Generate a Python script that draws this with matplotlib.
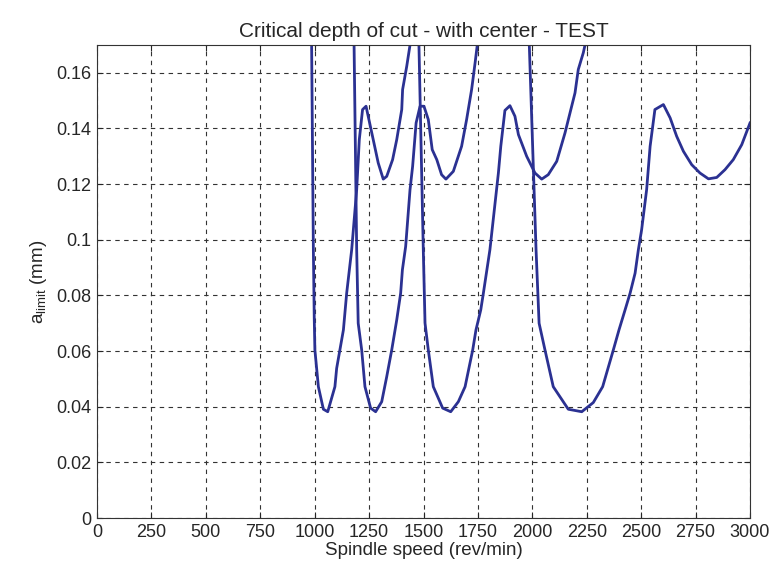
import matplotlib
matplotlib.use("Agg")
import matplotlib.pyplot as plt

plt.rcParams['font.family'] = ['Liberation Sans', 'DejaVu Sans']
plt.rcParams['mathtext.fontset'] = 'custom'
plt.rcParams['mathtext.rm'] = 'Liberation Sans'

# -- lobes (spindle speed rev/min, a_limit mm) --
lobe1_n = [986, 994, 998, 1001, 1017, 1040, 1060, 1093, 1101, 1132, 1147, 1170,
           1193, 1205, 1220, 1236, 1269, 1292, 1315, 1331, 1358, 1377, 1400,
           1404, 1423, 1438]
lobe1_a = [0.170, 0.0964, 0.072, 0.0604, 0.0472, 0.0391, 0.0382, 0.0472, 0.0538,
           0.0676, 0.0808, 0.0964, 0.118, 0.136, 0.1468, 0.148, 0.136, 0.1276,
           0.1218, 0.1228, 0.1288, 0.136, 0.1468, 0.154, 0.1624, 0.170]

lobe2_n = [1181, 1193, 1200, 1216, 1231, 1257, 1280, 1308, 1331, 1354, 1377, 1395,
           1403, 1418, 1438, 1450, 1466, 1484, 1502, 1522, 1540, 1561, 1583, 1603,
           1637, 1675, 1698, 1721, 1737, 1747]
lobe2_a = [0.170, 0.0964, 0.070, 0.0604, 0.0472, 0.0395, 0.0382, 0.0418, 0.0508,
           0.0604, 0.0712, 0.0808, 0.0892, 0.0976, 0.118, 0.1264, 0.142, 0.148,
           0.148, 0.1432, 0.1324, 0.1288, 0.1234, 0.1218, 0.1246, 0.1336, 0.1432,
           0.154, 0.1636, 0.170]

lobe3_n = [1479, 1499, 1507, 1522, 1545, 1588, 1625, 1660, 1691, 1726, 1741, 1763,
           1775, 1805, 1844, 1855, 1874, 1897, 1920, 1936, 1974, 2012, 2043, 2073,
           2112, 2150, 2196, 2211, 2234, 2242]
lobe3_a = [0.170, 0.0964, 0.070, 0.0604, 0.0472, 0.0395, 0.0382, 0.0418, 0.0472,
           0.0604, 0.0676, 0.0748, 0.0808, 0.0964, 0.124, 0.1336, 0.1465, 0.1482,
           0.1444, 0.1378, 0.130, 0.124, 0.1218, 0.1234, 0.1282, 0.1384, 0.1528,
           0.1612, 0.1672, 0.170]

lobe4_n = [1986, 2017, 2031, 2058, 2096, 2165, 2227, 2280, 2323, 2372, 2398, 2426,
           2449, 2472, 2487, 2502, 2525, 2541, 2563, 2602, 2633, 2663, 2694, 2732,
           2770, 2809, 2847, 2885, 2923, 2962, 3000]
lobe4_a = [0.170, 0.0964, 0.070, 0.0604, 0.0472, 0.0391, 0.0382, 0.0415, 0.0472,
           0.0604, 0.0676, 0.0748, 0.0808, 0.088, 0.0964, 0.1036, 0.118, 0.1336,
           0.1468, 0.1486, 0.1438, 0.1372, 0.1318, 0.127, 0.124, 0.1219, 0.1224,
           0.1252, 0.1288, 0.1342, 0.142]

x_ticks = list(range(0, 3001, 250))
y_ticks = [0, 0.02, 0.04, 0.06, 0.08, 0.1, 0.12, 0.14, 0.16]
y_labels = ['0', '0.02', '0.04', '0.06', '0.08', '0.1', '0.12', '0.14', '0.16']

line_col = '#2b3192'
txt_col = '#262626'

fig = plt.figure(figsize=(7.71, 5.67), dpi=100)
fig.patch.set_facecolor('white')
ax = fig.add_axes([0.1258, 0.0864, 0.8470, 0.8342])

for n, a in [(lobe1_n, lobe1_a), (lobe2_n, lobe2_a),
             (lobe3_n, lobe3_a), (lobe4_n, lobe4_a)]:
    ax.plot(n, a, color=line_col, linewidth=2.0, solid_joinstyle='round')

ax.set_xlim(0, 3000)
ax.set_ylim(0, 0.17)
ax.set_xticks(x_ticks)
ax.set_xticklabels([str(t) for t in x_ticks])
ax.set_yticks(y_ticks)
ax.set_yticklabels(y_labels)

ax.grid(True, color='#333333', linestyle=(0, (4, 4)), linewidth=0.8)
ax.tick_params(direction='in', top=True, right=True, length=4, width=0.8,
               labelsize=13, colors=txt_col, pad=4)
for s in ax.spines.values():
    s.set_color('#333333')
    s.set_linewidth(0.8)

ax.set_title('Critical depth of cut - with center - TEST', fontsize=15,
             color=txt_col, pad=6)
ax.set_xlabel('Spindle speed (rev/min)', fontsize=13.5, color=txt_col, labelpad=1)
ax.set_ylabel(r'a$_{\mathregular{limit}}$ (mm)', fontsize=13.5, color=txt_col, labelpad=5)

fig.savefig('out.png', dpi=100)
